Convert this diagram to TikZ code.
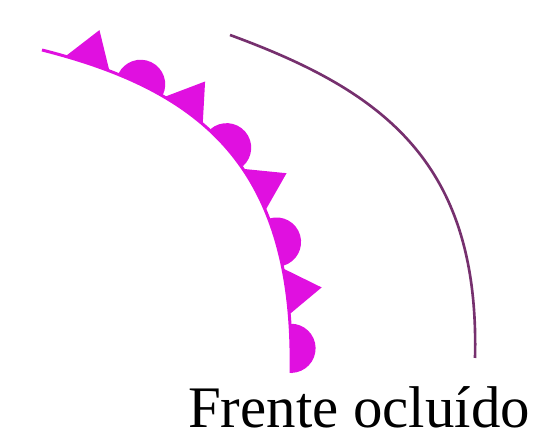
\documentclass[tikz,border=0pt]{standalone}
\usepackage{fontspec}
\setmainfont{Liberation Serif}
\usepackage{xcolor}
\usetikzlibrary{decorations.markings}

\definecolor{occmag}{HTML}{E010E0}
\definecolor{occdark}{HTML}{76306E}

\tikzset{
  triangle mark/.style={fill=occmag, draw=none},
  occluded front/.style={occmag, line width=1.7pt, postaction={decorate},
    decoration={markings,
      mark=between positions 27pt and 250pt step 61.2pt with
        {\fill[triangle mark] (-13pt,0pt) -- (0.5pt,20pt) -- (13pt,0pt) -- cycle;},
      mark=between positions 59.5pt and 250pt step 61.2pt with
        {\fill[triangle mark] (-14pt,0pt) arc[start angle=180, end angle=0, radius=14pt] -- cycle;}}},
  back front/.style={occdark, line width=1.5pt}
}

\begin{document}
\begin{tikzpicture}[scale=1.0]
  \useasboundingbox (0,0) rectangle (10.74,8.76);
  %% occluded front with alternating triangles and half discs
  \draw[occluded front] (0.84,7.76) .. controls (4.00,6.96) and (5.90,5.46) .. (5.82,1.30);
  %% plain curve on the outside
  \draw[back front] (4.60,8.06) .. controls (7.60,6.96) and (9.60,5.56) .. (9.50,1.60);
  \node[anchor=base, font=\fontsize{33.5pt}{36pt}\selectfont, inner sep=0pt]
    (frontlabel) at (7.18,0.20) {Frente ocluído};
\end{tikzpicture}
\end{document}
